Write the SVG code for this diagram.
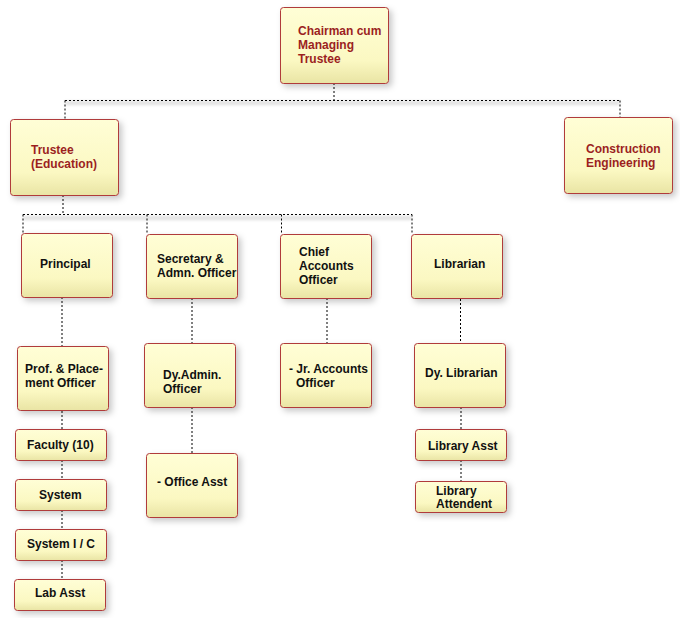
<svg xmlns="http://www.w3.org/2000/svg" width="680" height="618" viewBox="0 0 680 618">
<defs>
<linearGradient id="fill" x1="0" y1="0" x2="0" y2="1">
<stop offset="0" stop-color="#fffed6"/>
<stop offset="0.7" stop-color="#fbf8c2"/>
<stop offset="1" stop-color="#e9e4a4"/>
</linearGradient>
<filter id="sh" x="-20%" y="-20%" width="150%" height="150%">
<feDropShadow dx="3" dy="3" stdDeviation="3" flood-color="#000" flood-opacity="0.22"/>
</filter>
<filter id="lsh" x="-5%" y="-200%" width="110%" height="500%">
<feGaussianBlur stdDeviation="1.5"/>
</filter>
</defs>
<style>
.box{fill:url(#fill);stroke:#b03a3a;stroke-width:1;filter:url(#sh)}
.t{font-family:"Liberation Sans",Arial,sans-serif;font-size:12px;font-weight:bold;fill:#111}
.r{fill:#9b1f1f}
.c{fill:none;stroke:#000;stroke-width:1;stroke-dasharray:2,2}
.s{fill:none;stroke:#000;stroke-opacity:0.12;stroke-width:4;filter:url(#lsh)}
</style>
<rect width="680" height="618" fill="#fff"/>
<g id="connectors">
<path class="s" d="M65 103 H620 M23 218 H412"/>
<path class="c" d="M334 83 V100.5 M65 100.5 H620 M65 100.5 V119 M620 100.5 V117"/>
<path class="c" d="M63 195 V214.5 M23 214.5 H412 M23 214.5 V233 M147 214.5 V234 M281.5 214.5 V234 M412 214.5 V234"/>
<path class="c" d="M62 297 V346 M62 411 V429 M62 460 V479 M62 510 V529 M62 560 V579"/>
<path class="c" d="M192 298 V343 M192 407 V453"/>
<path class="c" d="M327 298 V343"/>
<path class="c" d="M460.5 299 V343 M461 407 V429 M461 460 V481"/>
</g>
<g id="chairman"><rect class="box" x="280.5" y="7.5" width="108" height="76" rx="3"/><text class="t r" x="298" y="35">Chairman cum</text><text class="t r" x="298" y="49">Managing</text><text class="t r" x="298" y="63">Trustee</text></g>
<g id="trustee"><rect class="box" x="10.5" y="119.5" width="108" height="76" rx="3"/><text class="t r" x="31" y="154">Trustee</text><text class="t r" x="31" y="168">(Education)</text></g>
<g id="construction"><rect class="box" x="564.5" y="117.5" width="108" height="76" rx="3"/><text class="t r" x="586" y="153">Construction</text><text class="t r" x="586" y="167">Engineering</text></g>
<g id="principal"><rect class="box" x="21.5" y="233.5" width="91" height="64" rx="3"/><text class="t" x="40" y="268">Principal</text></g>
<g id="secretary"><rect class="box" x="146.5" y="234.5" width="91" height="64" rx="3"/><text class="t" x="157" y="263">Secretary &amp;</text><text class="t" x="157" y="277">Admn. Officer</text></g>
<g id="chief"><rect class="box" x="280.5" y="234.5" width="91" height="64" rx="3"/><text class="t" x="299" y="256">Chief</text><text class="t" x="299" y="270">Accounts</text><text class="t" x="299" y="284">Officer</text></g>
<g id="librarian"><rect class="box" x="411.5" y="234.5" width="91" height="64" rx="3"/><text class="t" x="434" y="268">Librarian</text></g>
<g id="prof"><rect class="box" x="17.5" y="346.5" width="91" height="64" rx="3"/><text class="t" x="25" y="373">Prof. &amp; Place-</text><text class="t" x="25" y="387">ment Officer</text></g>
<g id="faculty"><rect class="box" x="15.5" y="429.5" width="91" height="31" rx="3"/><text class="t" x="27" y="449">Faculty (10)</text></g>
<g id="system"><rect class="box" x="15.5" y="479.5" width="91" height="31" rx="3"/><text class="t" x="39" y="499">System</text></g>
<g id="systemic"><rect class="box" x="15.5" y="529.5" width="91" height="31" rx="3"/><text class="t" x="27" y="548">System I / C</text></g>
<g id="labasst"><rect class="box" x="14.5" y="579.5" width="91" height="31" rx="3"/><text class="t" x="35" y="597">Lab Asst</text></g>
<g id="dyadmin"><rect class="box" x="144.5" y="343.5" width="91" height="64" rx="3"/><text class="t" x="163" y="379">Dy.Admin.</text><text class="t" x="163" y="393">Officer</text></g>
<g id="officeasst"><rect class="box" x="146.5" y="453.5" width="91" height="64" rx="3"/><text class="t" x="157" y="486">- Office Asst</text></g>
<g id="jraccounts"><rect class="box" x="280.5" y="343.5" width="91" height="64" rx="3"/><text class="t" x="289" y="373">- Jr. Accounts</text><text class="t" x="296" y="387">Officer</text></g>
<g id="dylibrarian"><rect class="box" x="414.5" y="343.5" width="91" height="64" rx="3"/><text class="t" x="425" y="377">Dy. Librarian</text></g>
<g id="libraryasst"><rect class="box" x="415.5" y="429.5" width="91" height="31" rx="3"/><text class="t" x="428" y="450">Library Asst</text></g>
<g id="libraryattendent"><rect class="box" x="415.5" y="481.5" width="91" height="31" rx="3"/><text class="t" x="436" y="495">Library</text><text class="t" x="436" y="508">Attendent</text></g>
</svg>
